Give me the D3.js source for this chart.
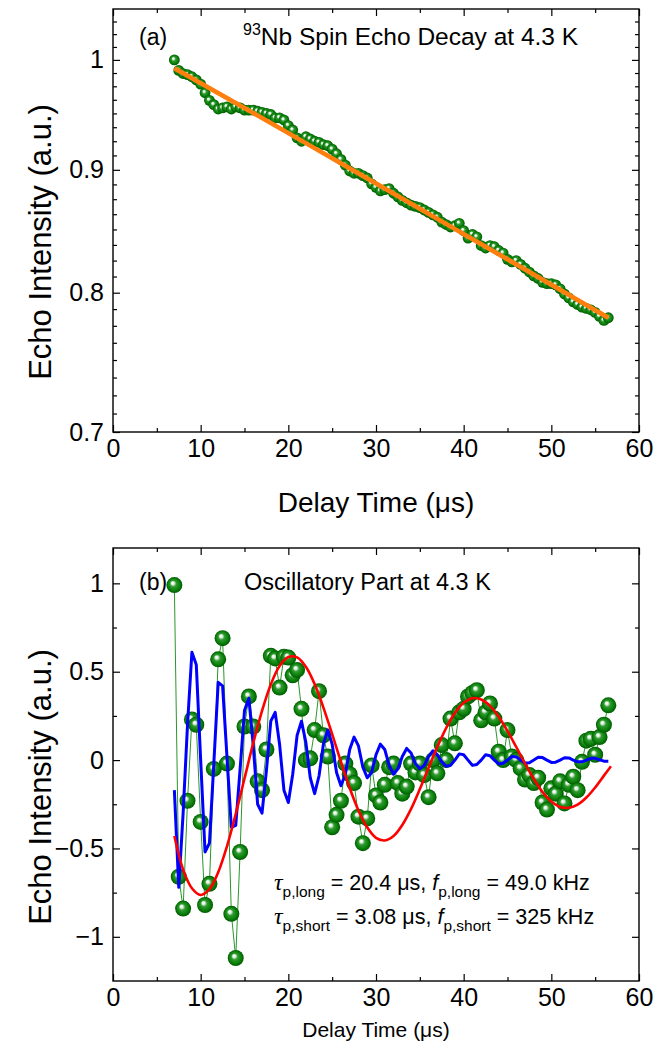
<!DOCTYPE html>
<html><head><meta charset="utf-8">
<script src="https://cdn.jsdelivr.net/npm/d3@7"></script>
<style>body{margin:0;background:#fff} text{font-family:"Liberation Sans",Arial,sans-serif}</style>
</head><body><svg id="c" width="654" height="1051"></svg>
<script>
// ---------- data ----------
const decayTime = [7.0,7.5,8.0,8.5,9.0,9.5,10.0,10.5,11.0,11.5,12.0,12.5,13.0,13.5,14.0,14.5,15.0,15.5,16.0,16.5,17.0,17.5,18.0,18.5,19.0,19.5,20.0,20.5,21.0,21.5,22.0,22.5,23.0,23.5,24.0,24.5,25.0,25.5,26.0,26.5,27.0,27.5,28.0,28.5,29.0,29.5,30.0,30.5,31.0,31.5,32.0,32.5,33.0,33.5,34.0,34.5,35.0,35.5,36.0,36.5,37.0,37.5,38.0,38.5,39.0,39.5,40.0,40.5,41.0,41.5,42.0,42.5,43.0,43.5,44.0,44.5,45.0,45.5,46.0,46.5,47.0,47.5,48.0,48.5,49.0,49.5,50.0,50.5,51.0,51.5,52.0,52.5,53.0,53.5,54.0,54.5,55.0,55.5,56.0,56.5];
const decayEcho = [1.000,0.990,0.987,0.986,0.984,0.981,0.977,0.969,0.962,0.958,0.954,0.955,0.956,0.954,0.956,0.955,0.953,0.953,0.953,0.952,0.951,0.950,0.949,0.946,0.946,0.944,0.939,0.935,0.928,0.925,0.929,0.927,0.925,0.924,0.922,0.921,0.918,0.914,0.909,0.904,0.899,0.897,0.897,0.895,0.893,0.888,0.885,0.882,0.883,0.884,0.880,0.877,0.874,0.872,0.870,0.869,0.868,0.866,0.864,0.862,0.860,0.856,0.854,0.852,0.853,0.855,0.849,0.843,0.846,0.844,0.837,0.835,0.837,0.836,0.833,0.831,0.826,0.824,0.825,0.822,0.819,0.816,0.813,0.811,0.808,0.807,0.807,0.806,0.803,0.799,0.796,0.793,0.791,0.789,0.788,0.787,0.785,0.782,0.779,0.781];
const decayFitTime = [7.0,15,25,35,45,56.5];
const decayFitEcho = [0.992,0.955,0.910,0.867,0.826,0.781];

const oscTime = decayTime; // same delay times
const oscEcho = [0.99,-0.66,-0.84,-0.23,0.23,0.20,-0.35,-0.82,-0.70,-0.05,0.57,0.69,-0.02,-0.87,-1.12,-0.52,0.19,0.36,0.19,-0.12,-0.17,0.06,0.59,0.575,0.41,0.585,0.58,0.48,0.51,0.29,0.00,0.01,0.17,0.39,0.14,0.02,-0.38,-0.31,-0.23,-0.02,-0.08,-0.13,-0.32,-0.47,-0.33,-0.03,-0.20,-0.24,-0.14,-0.04,-0.02,-0.13,-0.19,-0.15,-0.02,-0.07,-0.02,-0.085,-0.21,0.0,-0.075,0.085,0.0,0.235,0.095,0.27,0.29,0.36,0.38,0.395,0.225,0.27,0.32,0.235,0.047,0.0,0.17,0.02,0.0,-0.047,-0.11,-0.085,-0.13,-0.10,-0.24,-0.28,-0.16,-0.19,-0.12,-0.245,-0.14,-0.094,-0.17,-0.01,0.11,0.12,0.03,0.13,0.20,0.31];
const shortFit = [-0.17,-0.72,-0.30,0.20,0.61,0.54,0.00,-0.52,-0.47,-0.02,0.44,0.42,0.02,-0.38,-0.37,-0.05,0.28,0.35,0.08,-0.25,-0.30,-0.06,0.22,0.27,0.09,-0.17,-0.24,-0.08,0.14,0.22,0.10,-0.10,-0.19,-0.09,0.09,0.17,0.09,-0.07,-0.145,-0.08,0.06,0.13,0.08,-0.04,-0.10,-0.07,0.03,0.09,0.06,-0.03,-0.08,-0.05,0.02,0.066,0.04,-0.02,-0.05,-0.03,0.02,0.053,0.03,-0.01,-0.035,-0.03,0.0,0.035,0.03,0.0,-0.03,-0.025,0.0,0.03,0.025,0.0,-0.022,-0.018,0.0,0.02,0.018,0.0,-0.017,-0.015,0.0,0.016,0.014,0.0,-0.013,-0.012,0.0,0.013,0.012,0.0,-0.01,-0.01,0.0,0.01,0.01,0.002,-0.006,-0.006];
const longFitTime = [7,8,9,10,11,12,13,14,15,16,17,18,19,20,21,22,23,24,25,26,27,28,29,30,31,32,33,34,35,36,37,38,39,40,41,42,43,44,45,46,47,48,49,50,51,52,53,54,55,56,56.8];
const longFit = [-0.43,-0.62,-0.725,-0.763,-0.73,-0.635,-0.488,-0.305,-0.104,0.097,0.279,0.428,0.532,0.583,0.581,0.528,0.43,0.297,0.147,-0.01,-0.158,-0.285,-0.381,-0.44,-0.455,-0.43,-0.367,-0.276,-0.164,-0.044,0.075,0.181,0.266,0.324,0.35,0.343,0.307,0.245,0.164,0.074,-0.019,-0.106,-0.181,-0.234,-0.265,-0.27,-0.252,-0.212,-0.155,-0.088,-0.035];

const xTicks = [0,10,20,30,40,50,60];
const xMinor = [5,15,25,35,45,55];
const yTicksA = [0.7,0.8,0.9,1];
const yTicksB = [-1,-0.5,0,0.5,1];
const yMinorB = [-0.75,-0.25,0.25,0.75];

// ---------- drawing ----------
const svg = d3.select("#c");
const defs = svg.append("defs");
const g = defs.append("radialGradient").attr("id","sph").attr("cx","50%").attr("cy","50%").attr("r","50%").attr("fx","38%").attr("fy","35%");
[[0,"#ffffff"],[0.18,"#e2f1e2"],[0.4,"#2f9a2f"],[0.75,"#0a800a"],[1,"#005800"]].forEach(s=>g.append("stop").attr("offset",s[0]).attr("stop-color",s[1]));

const L=113, R=639;
const x = d3.scaleLinear().domain([0,60]).range([L,R]);
const TF = 25;

function frame(top,bottom,y,yMajor,yMinor,fmt){
  const gx = svg.append("g");
  gx.append("g").attr("transform",`translate(0,${bottom})`)
    .call(d3.axisBottom(x).tickValues(xTicks).tickSize(-7).tickSizeOuter(0).tickPadding(7).tickFormat(d3.format("d")));
  gx.append("g").attr("transform",`translate(0,${bottom})`)
    .call(d3.axisBottom(x).tickValues(xMinor).tickSize(-4).tickSizeOuter(0).tickFormat(""));
  gx.append("g").attr("transform",`translate(0,${top})`)
    .call(d3.axisTop(x).tickValues(xTicks).tickSize(-7).tickSizeOuter(0).tickFormat(""));
  gx.append("g").attr("transform",`translate(0,${top})`)
    .call(d3.axisTop(x).tickValues(xMinor).tickSize(-4).tickSizeOuter(0).tickFormat(""));
  gx.append("g").attr("transform",`translate(${L},0)`)
    .call(d3.axisLeft(y).tickValues(yMajor).tickSize(-7).tickSizeOuter(0).tickPadding(9).tickFormat(fmt));
  gx.append("g").attr("transform",`translate(${L},0)`)
    .call(d3.axisLeft(y).tickValues(yMinor).tickSize(-4).tickSizeOuter(0).tickFormat(""));
  gx.append("g").attr("transform",`translate(${R},0)`)
    .call(d3.axisRight(y).tickValues(yMajor).tickSize(-7).tickSizeOuter(0).tickFormat(""));
  gx.append("g").attr("transform",`translate(${R},0)`)
    .call(d3.axisRight(y).tickValues(yMinor).tickSize(-4).tickSizeOuter(0).tickFormat(""));
  gx.selectAll(".domain").remove();
  gx.selectAll(".tick line").attr("stroke","#000").attr("stroke-width",1.2);
  gx.selectAll(".tick text").attr("font-size",TF).attr("fill","#000").attr("font-family","Liberation Sans, Arial, sans-serif");
  svg.append("rect").attr("x",L).attr("y",top).attr("width",R-L).attr("height",bottom-top)
    .attr("fill","none").attr("stroke","#000").attr("stroke-width",1.4);
}

// ----- panel (a) -----
const aTop=9, aBot=432;
const ya = d3.scaleLog().domain([0.7,1.05]).range([aBot,aTop]);
const yMinorA = [];
[0.7,0.8,0.9,1.0].forEach(m=>{ for(let k=1;k<8;k++){ const v=+(m+k*0.0125).toFixed(4); if(v<1.05) yMinorA.push(v);} });
frame(aTop,aBot,ya,yTicksA,yMinorA,d=>d===1?"1":d3.format(".1f")(d));

const aPts = decayTime.map((t,i)=>[t,decayEcho[i]]);
svg.append("g").selectAll("circle").data(aPts).join("circle")
  .attr("cx",d=>x(d[0])).attr("cy",d=>ya(d[1])).attr("r",5.4).attr("fill","url(#sph)");
svg.append("path").datum(decayFitTime.map((t,i)=>[t,decayFitEcho[i]]))
  .attr("d",d3.line().x(d=>x(d[0])).y(d=>ya(d[1])).curve(d3.curveMonotoneX))
  .attr("fill","none").attr("stroke","#ff7f0e").attr("stroke-width",4.6);

svg.append("text").attr("x",139).attr("y",45).attr("font-size",23).text("(a)");
const ta = svg.append("text").attr("x",243).attr("y",45).attr("font-size",24.5);
ta.append("tspan").attr("font-size",16).attr("dy",-10).text("93");
ta.append("tspan").attr("dy",10).text("Nb Spin Echo Decay at 4.3 K");

svg.append("text").attr("transform",`translate(51,242) rotate(-90)`).attr("text-anchor","middle")
  .attr("font-size",31).text("Echo Intensity (a.u.)");
svg.append("text").attr("x",(L+R)/2).attr("y",512).attr("text-anchor","middle").attr("font-size",28).text("Delay Time (\u03bcs)");

// ----- panel (b) -----
const bTop=548, bBot=981;
const yb = d3.scaleLinear().domain([-1.25,1.2]).range([bBot,bTop]);
frame(bTop,bBot,yb,yTicksB,yMinorB,d=>d===0?"0":(d<0?"\u2212":"")+d3.format("")(Math.abs(d)));

const bPts = oscTime.map((t,i)=>[t,oscEcho[i]]);
svg.append("path").datum(bPts).attr("d",d3.line().x(d=>x(d[0])).y(d=>yb(d[1])))
  .attr("fill","none").attr("stroke","#128a12").attr("stroke-width",0.9);
svg.append("g").selectAll("circle").data(bPts).join("circle")
  .attr("cx",d=>x(d[0])).attr("cy",d=>yb(d[1])).attr("r",8).attr("fill","url(#sph)");
svg.append("path").datum(oscTime.map((t,i)=>[t,shortFit[i]]))
  .attr("d",d3.line().x(d=>x(d[0])).y(d=>yb(d[1])))
  .attr("fill","none").attr("stroke","#0000ff").attr("stroke-width",3).attr("stroke-linejoin","round");
svg.append("path").datum(longFitTime.map((t,i)=>[t,longFit[i]]))
  .attr("d",d3.line().x(d=>x(d[0])).y(d=>yb(d[1])).curve(d3.curveCatmullRom))
  .attr("fill","none").attr("stroke","#ff0000").attr("stroke-width",2.6);

svg.append("text").attr("x",139).attr("y",590).attr("font-size",23).text("(b)");
svg.append("text").attr("x",244).attr("y",590).attr("font-size",23.5).text("Oscillatory Part at 4.3 K");

function ann(yy, sub, v1, v2){
  const t = svg.append("text").attr("x",274).attr("y",yy).attr("font-size",21.5);
  t.append("tspan").attr("font-family","Liberation Serif, serif").attr("font-style","italic").attr("font-size",24).text("\u03c4");
  t.append("tspan").attr("font-size",15.5).attr("dy",7).text(sub);
  t.append("tspan").attr("dy",-7).text(" = "+v1+", ");
  t.append("tspan").attr("font-style","italic").text("f");
  t.append("tspan").attr("font-size",15.5).attr("dy",7).text(sub);
  t.append("tspan").attr("dy",-7).text(" = "+v2);
}
ann(890,"p,long","20.4 \u03bcs","49.0 kHz");
ann(924,"p,short","3.08 \u03bcs","325 kHz");

svg.append("text").attr("transform",`translate(51,787) rotate(-90)`).attr("text-anchor","middle")
  .attr("font-size",31).text("Echo Intensity (a.u.)");
svg.append("text").attr("x",(L+R)/2).attr("y",1037).attr("text-anchor","middle").attr("font-size",21).text("Delay Time (\u03bcs)");
</script></body></html>
